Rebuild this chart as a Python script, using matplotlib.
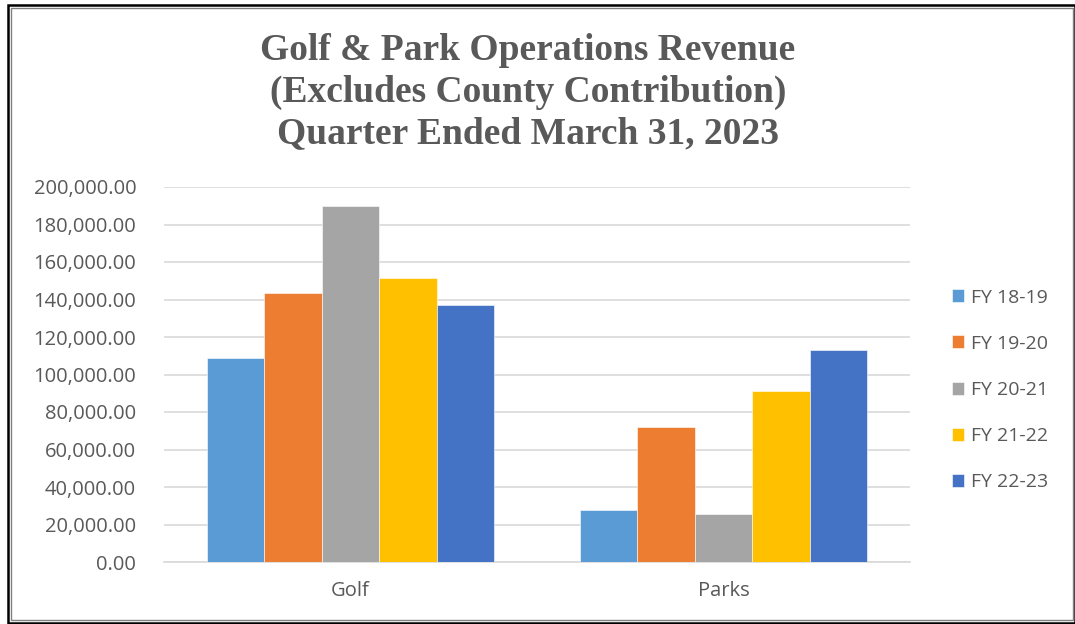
import numpy as np
import matplotlib.pyplot as plt
from matplotlib.patches import Rectangle
from matplotlib.ticker import FuncFormatter

# data
categories = ['Golf', 'Parks']
series = ['FY 18-19', 'FY 19-20', 'FY 20-21', 'FY 21-22', 'FY 22-23']
fy1819 = [108600, 27700]
fy1920 = [143300, 72000]
fy2021 = [189900, 25600]
fy2122 = [151300, 91200]
fy2223 = [137100, 113200]
colors = ['#5b9bd5', '#ed7d31', '#a5a5a5', '#ffc000', '#4472c4']

values = [fy1819, fy1920, fy2021, fy2122, fy2223]

W, H = 1075, 624
fig = plt.figure(figsize=(W / 100, H / 100), dpi=100)
ax = fig.add_axes([164 / W, 62 / H, (910 - 164) / W, 375 / H])

x = np.arange(len(categories))
w = 0.772 / len(series)
for i, (name, vals) in enumerate(zip(series, values)):
    offs = (i - (len(series) - 1) / 2) * w
    ax.bar(x + offs, vals, width=w, color=colors[i], label=name,
           edgecolor='white', linewidth=0.4, zorder=3)

ax.set_xlim(-0.5, 1.5)
ax.set_ylim(0, 200000)
ax.set_yticks(np.arange(0, 200001, 20000))
ax.yaxis.set_major_formatter(FuncFormatter(lambda v, p: f'{v:,.2f}'))
ax.set_xticks(x)
ax.set_xticklabels(categories)
ax.grid(axis='y', color='#d9d9d9', linewidth=1.2, zorder=0)
for s in ['top', 'right', 'left']:
    ax.spines[s].set_visible(False)
ax.spines['bottom'].set_color('#d9d9d9')
ax.spines['bottom'].set_linewidth(1.2)
ax.tick_params(length=0, labelcolor='#595959', labelsize=14.5)
ax.tick_params(axis='x', pad=14)
ax.tick_params(axis='y', pad=20)
for t in ax.get_xticklabels() + ax.get_yticklabels():
    t.set_family('Open Sans')

fig.legend(loc='center left', bbox_to_anchor=(934 / W, 1 - 390 / H), frameon=False,
           prop={'family': 'Open Sans', 'size': 14}, labelcolor='#595959',
           handlelength=0.65, handleheight=0.65, handletextpad=0.35,
           labelspacing=1.45)

fig.text(528 / W, 1 - 92 / H, 'Golf & Park Operations Revenue\n(Excludes County Contribution)\nQuarter Ended March 31, 2023',
         ha='center', va='center', family='Liberation Serif', weight='bold',
         size=27, color='#595959', linespacing=1.24)

# double border around the chart
fig.patches.append(Rectangle((8 / W, 1.5 / H), (W - 8) / W, (H - 6.5) / H, transform=fig.transFigure,
                             fill=False, edgecolor='black', linewidth=1.8))
fig.patches.append(Rectangle((11 / W, 4 / H), (W - 13) / W, (H - 11.5) / H, transform=fig.transFigure,
                             fill=False, edgecolor='#808080', linewidth=1))

fig.savefig('out.png', dpi=100)
